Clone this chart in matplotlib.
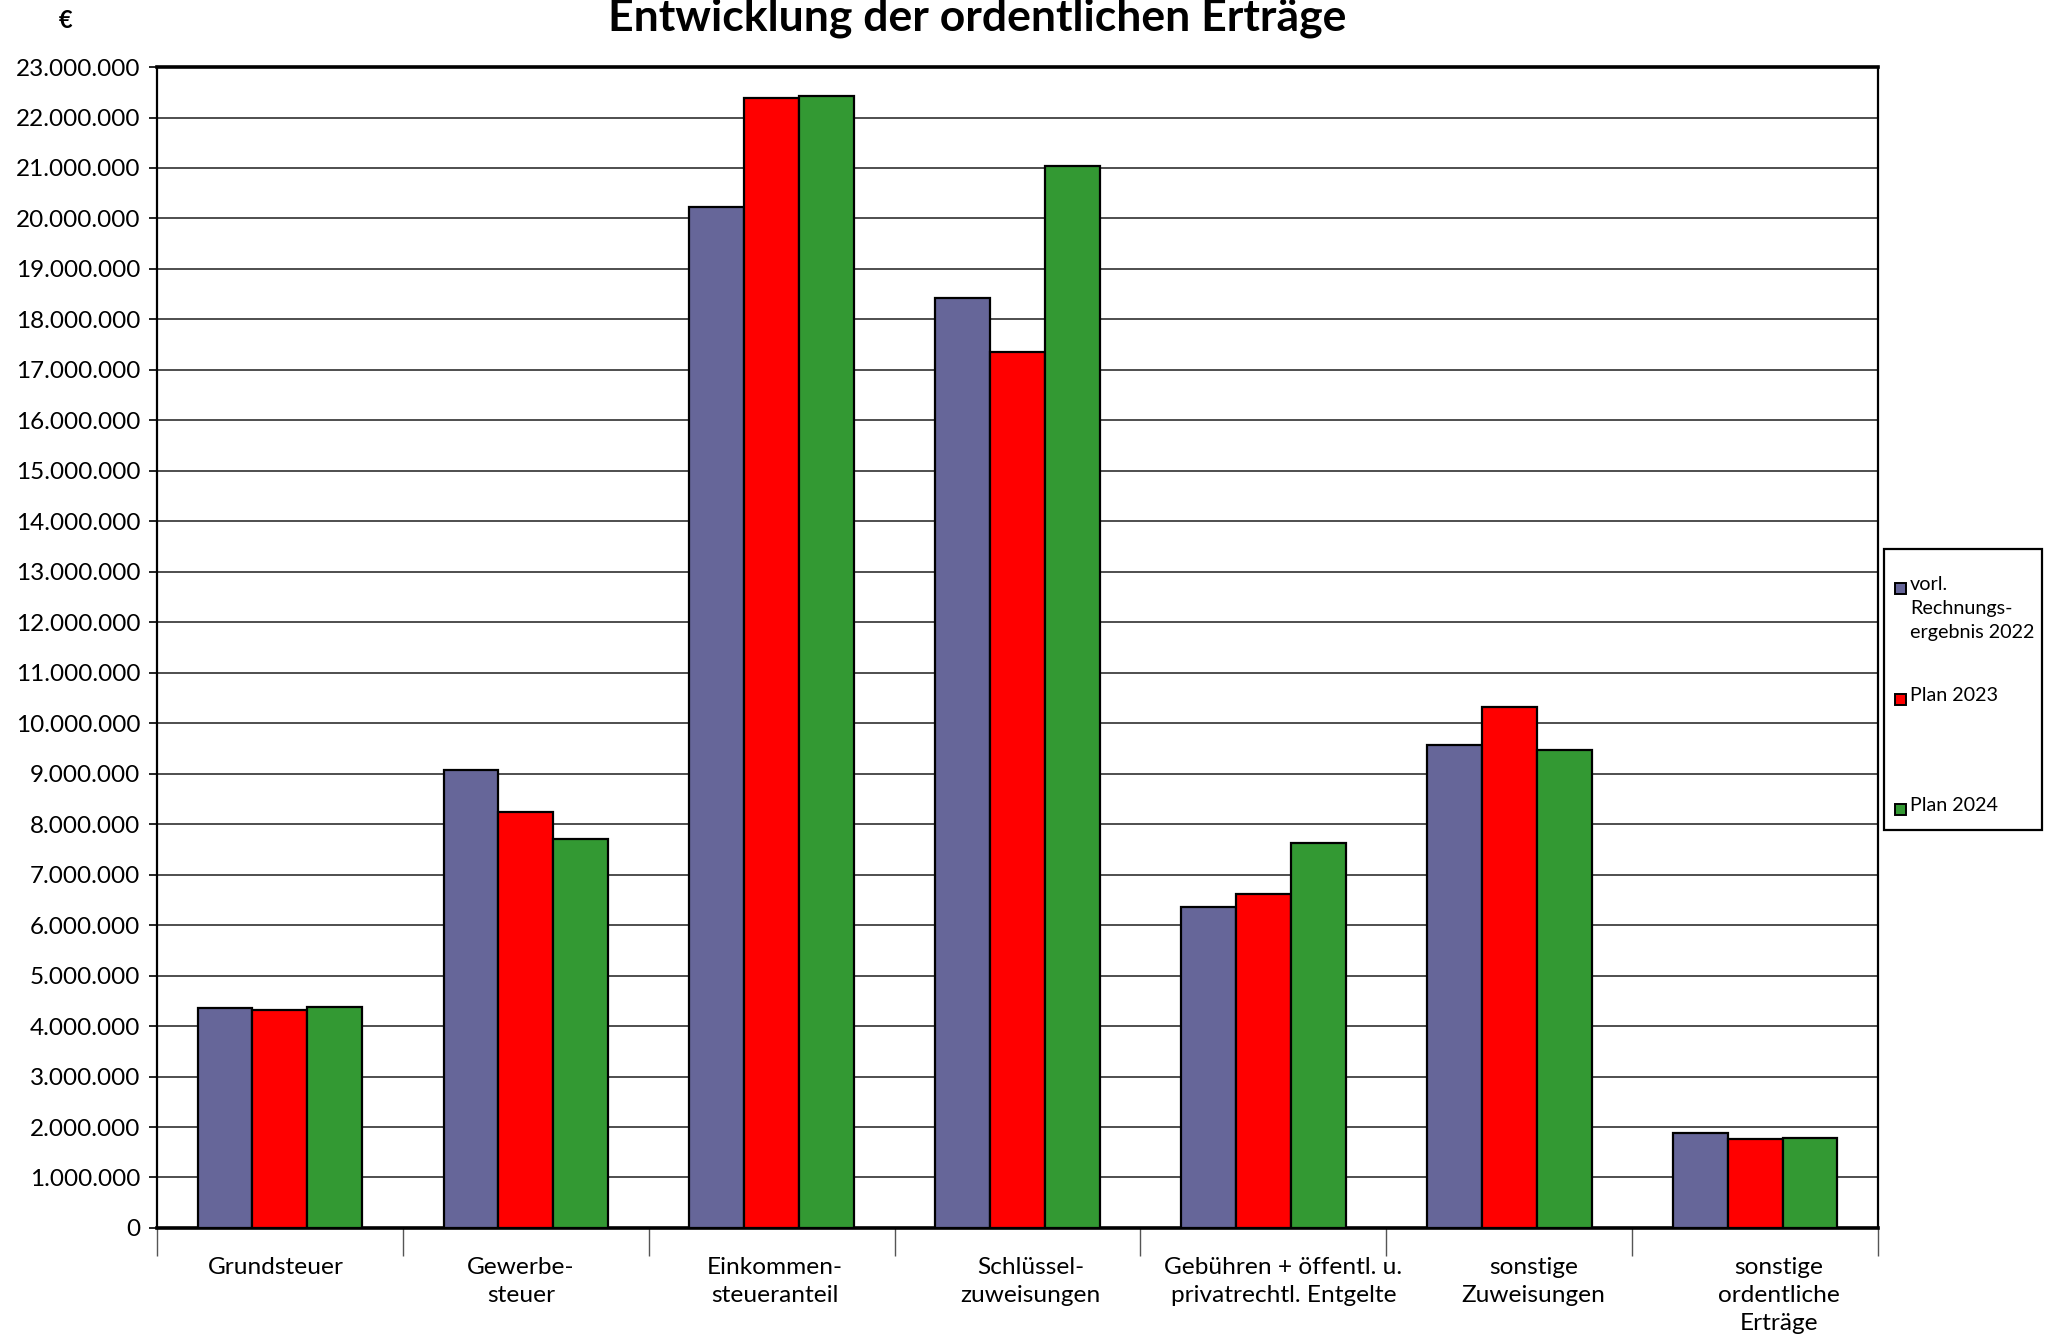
import numpy as np
import matplotlib
matplotlib.use("Agg")
import matplotlib.pyplot as plt
from matplotlib.patches import Rectangle
from matplotlib.transforms import ScaledTranslation
from matplotlib.ticker import FuncFormatter, MultipleLocator, FixedLocator

plt.rcParams["font.family"] = ["Lato", "DejaVu Sans"]

categories = [
    "Grundsteuer",
    "Gewerbe-\nsteuer",
    "Einkommen-\nsteueranteil",
    "Schlüssel-\nzuweisungen",
    "Gebühren + öffentl. u.\nprivatrechtl. Entgelte",
    "sonstige\nZuweisungen",
    "sonstige\nordentliche\nErträge",
]
ergebnis_2022 = [4350000, 9080000, 20230000, 18420000, 6360000, 9570000, 1890000]
plan_2023 = [4320000, 8250000, 22380000, 17360000, 6620000, 10320000, 1760000]
plan_2024 = [4370000, 7700000, 22430000, 21030000, 7630000, 9470000, 1790000]

series_labels = ["vorl.\nRechnungs-\nergebnis 2022", "Plan 2023", "Plan 2024"]
colors = ["#666699", "#FF0000", "#339933"]

fig = plt.figure(figsize=(20.49, 13.41), dpi=100)
ax = fig.add_axes([0.0766, 0.0843, 0.8400, 0.8657])

x = np.arange(len(categories))
w = 0.223
for i, vals in enumerate([ergebnis_2022, plan_2023, plan_2024]):
    ax.bar(x + (i - 1) * w, vals, width=w, color=colors[i],
           edgecolor="black", linewidth=1.6, zorder=3)

ax.set_xlim(-0.5, len(categories) - 0.5)
ax.set_ylim(0, 23000000)
ax.yaxis.set_major_locator(MultipleLocator(1000000))
ax.yaxis.set_major_formatter(FuncFormatter(lambda v, p: f"{int(v):,}".replace(",", ".")))
ax.grid(axis="y", color="#404040", linewidth=1.3, zorder=0)

ax.set_xticks(x)
ax.set_xticklabels(categories, fontsize=17.6, linespacing=1.42, va="top")
ax.tick_params(axis="x", which="major", length=0, pad=21)
ax.xaxis.set_minor_locator(FixedLocator(np.arange(-0.5, len(categories), 1.0)))
ax.tick_params(axis="x", which="minor", length=20, width=1.0, color="#555555")
ax.tick_params(axis="y", labelsize=17.5, length=6, width=1.2, pad=6)

# the original's category labels drift slightly right of the group centres
label_shift_px = [-4, -5, 3, 13, 20, 24, 24]
for lbl, dx in zip(ax.get_xticklabels(), label_shift_px):
    lbl.set_transform(lbl.get_transform() + ScaledTranslation(dx / 100, 0, fig.dpi_scale_trans))

for s in ["left", "right"]:
    ax.spines[s].set_linewidth(1.6)
for s in ["top", "bottom"]:
    ax.spines[s].set_linewidth(2.6)

fig.text(0.477, 0.977, "Entwicklung der ordentlichen Erträge", ha="center",
         va="baseline", fontsize=32, fontweight="bold")
fig.text(0.032, 0.985, "€", ha="center", va="center", fontsize=17, fontweight="bold")

# legend box drawn by hand to match the spacing of the original
W, H = 2049.0, 1341.0
fig.add_artist(Rectangle((1884 / W, 1 - 830 / H), 158 / W, 281 / H,
                         transform=fig.transFigure, facecolor="white",
                         edgecolor="black", linewidth=1.6))
entry_y = [588, 699, 809]
for lab, col, yy in zip(series_labels, colors, entry_y):
    fig.add_artist(Rectangle((1895 / W, 1 - (yy + 6) / H), 11 / W, 11 / H,
                             transform=fig.transFigure, facecolor=col,
                             edgecolor="black", linewidth=1.4))
    fig.text(1910 / W, 1 - (yy - 12) / H, lab, ha="left", va="top",
             fontsize=14.2, linespacing=1.5)

fig.savefig("out.png", dpi=100)
